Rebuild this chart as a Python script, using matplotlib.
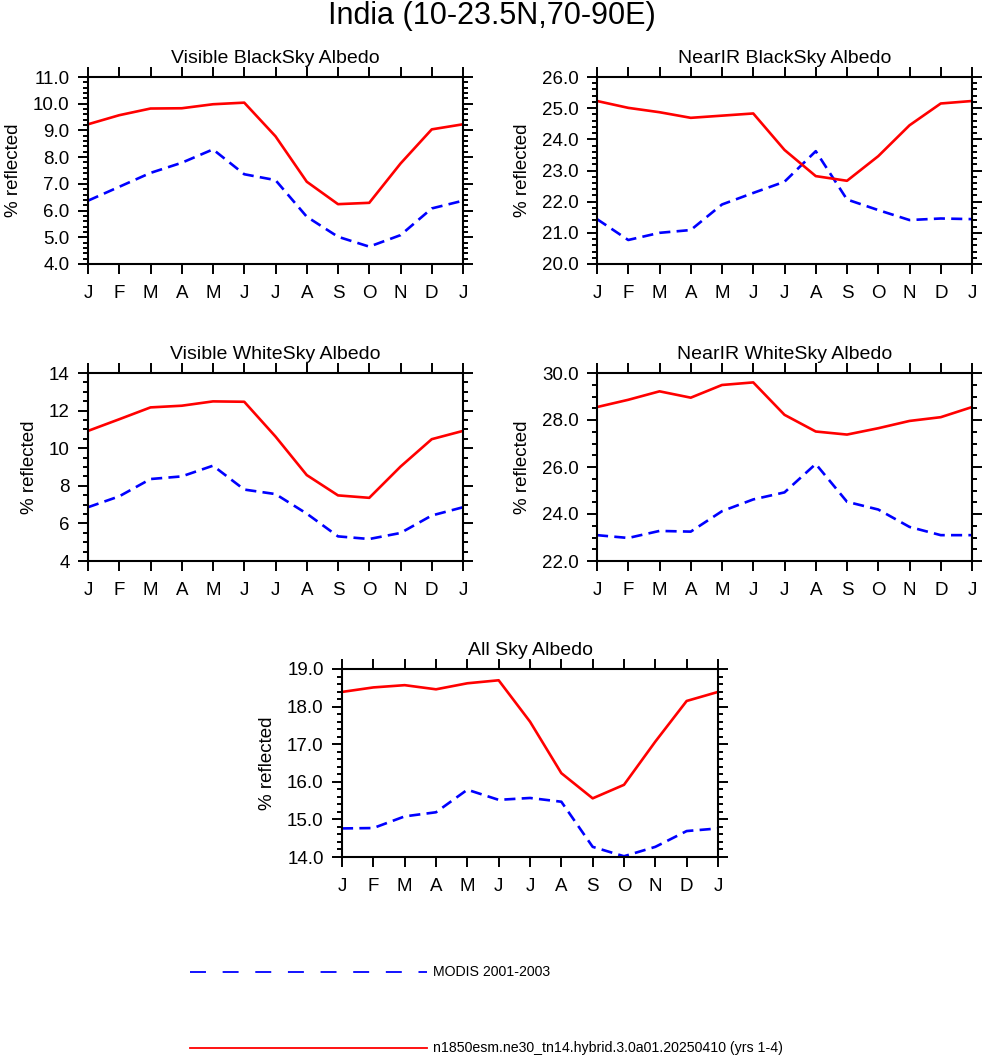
import numpy as np
import matplotlib
matplotlib.use("Agg")
import matplotlib.pyplot as plt
from matplotlib.lines import Line2D
from matplotlib.ticker import MultipleLocator, FormatStrFormatter

plt.rcParams['font.family'] = ['Liberation Sans', 'DejaVu Sans']
plt.rcParams['lines.scale_dashes'] = False

months = ['J', 'F', 'M', 'A', 'M', 'J', 'J', 'A', 'S', 'O', 'N', 'D', 'J']

# model (red solid) and MODIS (blue dashed), Jan..Dec + Jan again
vis_bs_model = [9.23, 9.57, 9.82, 9.83, 9.98, 10.04, 8.78, 7.08, 6.24, 6.29, 7.76, 9.04, 9.23]
vis_bs_modis = [6.37, 6.89, 7.41, 7.79, 8.29, 7.36, 7.14, 5.77, 5.02, 4.65, 5.08, 6.08, 6.37]

nir_bs_model = [25.23, 25.01, 24.87, 24.69, 24.76, 24.83, 23.66, 22.82, 22.67, 23.46, 24.45, 25.15, 25.23]
nir_bs_modis = [21.44, 20.77, 21.00, 21.09, 21.91, 22.28, 22.64, 23.62, 22.07, 21.73, 21.41, 21.46, 21.44]

vis_ws_model = [10.92, 11.54, 12.17, 12.26, 12.49, 12.47, 10.62, 8.57, 7.49, 7.36, 9.02, 10.48, 10.92]
vis_ws_modis = [6.86, 7.44, 8.36, 8.50, 9.07, 7.80, 7.56, 6.52, 5.31, 5.17, 5.49, 6.42, 6.86]

nir_ws_model = [28.55, 28.86, 29.22, 28.95, 29.49, 29.60, 28.22, 27.51, 27.38, 27.65, 27.96, 28.12, 28.55]
nir_ws_modis = [23.10, 22.98, 23.28, 23.25, 24.12, 24.62, 24.92, 26.13, 24.52, 24.19, 23.45, 23.10, 23.10]

all_model = [18.39, 18.51, 18.57, 18.46, 18.62, 18.70, 17.60, 16.23, 15.56, 15.92, 17.07, 18.15, 18.39]
all_modis = [14.76, 14.77, 15.08, 15.19, 15.79, 15.52, 15.57, 15.47, 14.27, 14.02, 14.27, 14.69, 14.76]

W, H = 984, 1056
fig = plt.figure(figsize=(W / 100, H / 100), dpi=100)


def rect(x0, y0, x1, y1):
    return [x0 / W, 1 - y1 / H, (x1 - x0) / W, (y1 - y0) / H]


panels = [
    ("Visible BlackSky Albedo", vis_bs_model, vis_bs_modis, (4, 11), 1.0, 0.2, '%.1f', rect(88, 77, 463, 264)),
    ("NearIR BlackSky Albedo", nir_bs_model, nir_bs_modis, (20, 26), 1.0, 0.2, '%.1f', rect(597, 77, 972, 264)),
    ("Visible WhiteSky Albedo", vis_ws_model, vis_ws_modis, (4, 14), 2.0, 0.5, '%d', rect(88, 373, 463, 561)),
    ("NearIR WhiteSky Albedo", nir_ws_model, nir_ws_modis, (22, 30), 2.0, 0.5, '%.1f', rect(597, 373, 972, 561)),
    ("All Sky Albedo", all_model, all_modis, (14, 19), 1.0, 0.2, '%.1f', rect(342, 669, 718, 857)),
]

x = np.arange(len(months))
for title, model, modis, ylim, major, minor, fmt, r in panels:
    ax = fig.add_axes(r)
    ax.plot(x, modis, color='#0000ff', lw=1.9, dashes=(8, 4.5))
    ax.plot(x, model, color='#ff0000', lw=1.9)
    ax.set_xlim(0, 12)
    ax.set_ylim(*ylim)
    ax.set_xticks(x)
    ax.set_xticklabels(months)
    ax.yaxis.set_major_locator(MultipleLocator(major))
    ax.yaxis.set_minor_locator(MultipleLocator(minor))
    ax.yaxis.set_major_formatter(FormatStrFormatter(fmt))
    ax.tick_params(which='both', direction='out', top=True, right=True, width=1.4)
    ax.tick_params(which='major', length=7.2, labelsize=13.5)
    ax.tick_params(axis='x', which='major', pad=8)
    ax.tick_params(axis='y', which='major', pad=6)
    ax.tick_params(which='minor', length=3.5)
    for s in ax.spines.values():
        s.set_linewidth(1.5)
    ax.set_ylabel('% reflected', fontsize=13.5, labelpad=8)
    ax.set_title(title, fontsize=14, pad=10)

fig.text(0.5, 1 - 16 / H, 'India (10-23.5N,70-90E)', ha='center', va='center', fontsize=22)

# legend
fig.add_artist(Line2D([190 / W, 427 / W], [1 - 972 / H, 1 - 972 / H], color='#0000ff', lw=1.3, dashes=(11.5, 12)))
fig.add_artist(Line2D([190 / W, 427 / W], [1 - 1048 / H, 1 - 1048 / H], color='#ff0000', lw=1.3))
fig.text(433 / W, 1 - 972 / H, 'MODIS 2001-2003', ha='left', va='center', fontsize=10.2)
fig.text(433 / W, 1 - 1048 / H, 'n1850esm.ne30_tn14.hybrid.3.0a01.20250410 (yrs 1-4)',
         ha='left', va='center', fontsize=10.2)

fig.savefig('out.png', dpi=100)
